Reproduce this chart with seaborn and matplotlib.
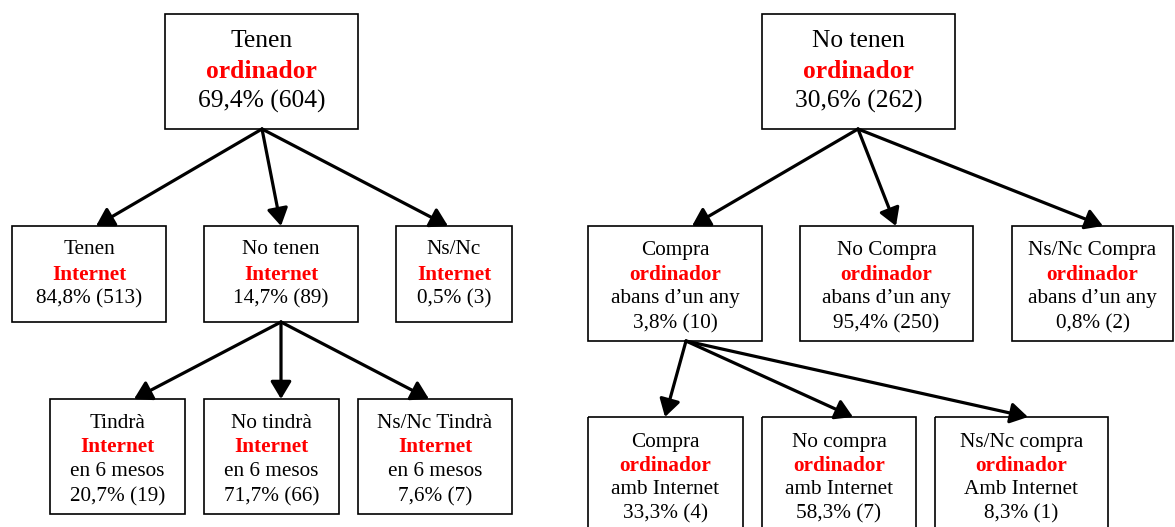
import matplotlib.pyplot as plt
import seaborn as sns
from matplotlib.patches import Rectangle, FancyArrowPatch

# Node texts and values
root_pre = ["Tenen", "No tenen"]
root_pct = [69.4, 30.6]
root_n = [604, 262]

internet_pre = ["Tenen", "No tenen", "Ns/Nc"]
internet_pct = [84.8, 14.7, 0.5]
internet_n = [513, 89, 3]

tindra_pre = ["Tindrà", "No tindrà", "Ns/Nc Tindrà"]
tindra_pct = [20.7, 71.7, 7.6]
tindra_n = [19, 66, 7]

compra_pre = ["Compra", "No Compra", "Ns/Nc Compra"]
compra_pct = [3.8, 95.4, 0.8]
compra_n = [10, 250, 2]

compra_int_pre = ["Compra", "No compra", "Ns/Nc compra"]
compra_int_post = ["amb Internet", "amb Internet", "Amb Internet"]
compra_int_pct = [33.3, 58.3, 8.3]
compra_int_n = [4, 7, 1]

# Layout in pixels (x0, y0, x1, y1)
ROOT_BOX = [(165, 14, 358, 129), (762, 14, 955, 129)]
INTERNET_BOX = [(12, 226, 166, 322), (204, 226, 358, 322), (396, 226, 512, 322)]
TINDRA_BOX = [(50, 399, 185, 514), (204, 399, 339, 514), (358, 399, 512, 514)]
COMPRA_BOX = [(588, 226, 762, 341), (800, 226, 973, 341), (1012, 226, 1173, 341)]
COMPRA_INT_BOX = [(588, 417, 743, 535), (762, 417, 916, 535), (935, 417, 1108, 535)]

RED = "#ff0000"
FONT = "Liberation Serif"


def fmt(p, n):
    return f"{p:.1f}".replace(".", ",") + f"% ({n})"


def draw_box(ax, box, lines, fontsize, first, step):
    x0, y0, x1, y1 = box
    ax.add_patch(Rectangle((x0, y0), x1 - x0, y1 - y0, fill=False,
                           edgecolor="black", linewidth=1.2))
    cx = (x0 + x1) / 2
    for i, (txt, red) in enumerate(lines):
        ax.text(cx, y0 + first + i * step + 2, txt, ha="center", va="center",
                fontsize=fontsize, family=FONT,
                color=RED if red else "black",
                fontweight="bold" if red else "normal")


def arrow(ax, start, end):
    ax.add_patch(FancyArrowPatch(start, end,
                                 arrowstyle="-|>,head_length=0.7,head_width=0.42",
                                 mutation_scale=15, color="black", linewidth=2.3,
                                 shrinkA=0, shrinkB=0))


def main():
    sns.set_theme(style="white")
    fig = plt.figure(figsize=(11.75, 5.27), dpi=100)
    ax = fig.add_axes([0, 0, 1, 1])
    ax.set_xlim(0, 1175)
    ax.set_ylim(527, 0)
    ax.axis("off")

    # Roots
    for i in range(2):
        draw_box(ax, ROOT_BOX[i],
                 [(root_pre[i], False), ("ordinador", True), (fmt(root_pct[i], root_n[i]), False)],
                 18.4, 25, 30)

    # Left tree
    for i in range(3):
        draw_box(ax, INTERNET_BOX[i],
                 [(internet_pre[i], False), ("Internet", True),
                  (fmt(internet_pct[i], internet_n[i]), False)],
                 15.3, 22, 24.5)
        draw_box(ax, TINDRA_BOX[i],
                 [(tindra_pre[i], False), ("Internet", True), ("en 6 mesos", False),
                  (fmt(tindra_pct[i], tindra_n[i]), False)],
                 15.3, 22, 24.5)

    # Right tree
    for i in range(3):
        draw_box(ax, COMPRA_BOX[i],
                 [(compra_pre[i], False), ("ordinador", True), ("abans d\u2019un any", False),
                  (fmt(compra_pct[i], compra_n[i]), False)],
                 15.3, 22, 24.5)
        draw_box(ax, COMPRA_INT_BOX[i],
                 [(compra_int_pre[i], False), ("ordinador", True), (compra_int_post[i], False),
                  (fmt(compra_int_pct[i], compra_int_n[i]), False)],
                 15.3, 23, 24)

    # Arrows
    for end in [(96, 226), (281, 226), (448, 226)]:
        arrow(ax, (262, 129), end)
    for end in [(134, 399), (281, 399), (429, 399)]:
        arrow(ax, (281, 322), end)
    for end in [(692, 226), (896, 226), (1103, 226)]:
        arrow(ax, (858, 129), end)
    for end in [(665, 417), (853, 417), (1028, 417)]:
        arrow(ax, (686, 341), end)

    fig.savefig("out.png", dpi=100, facecolor="white")
    plt.close(fig)


if __name__ == "__main__":
    main()
